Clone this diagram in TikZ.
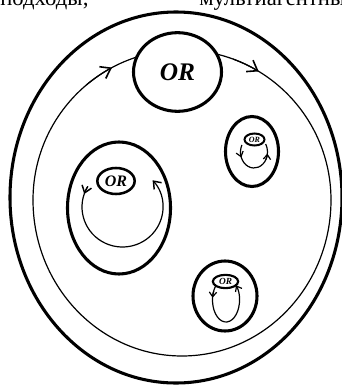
\documentclass[tikz,border=0pt]{standalone}
\usepackage{fontspec}
\setmainfont{Liberation Serif}
\usetikzlibrary{arrows.meta,shapes.geometric}
\begin{document}
\begin{tikzpicture}[x=0.75pt,y=-0.75pt,
  thickline/.style={line width=2.3pt},
  thinline/.style={line width=0.9pt},
  bigtip/.style={-{Straight Barb[length=7pt,width=10pt,line width=1.2pt]}},
  smalltip/.style={-{Straight Barb[length=5pt,width=7.5pt,line width=1.1pt]}},
  tinytip/.style={-{Straight Barb[length=3.5pt,width=5.5pt,line width=0.9pt]}},
  ornode/.style={ellipse, draw, fill=white, inner sep=0pt, font=\bfseries\itshape},
  cuttext/.style={anchor=base west, inner sep=0pt, font=\fontsize{17}{20}\selectfont}
]
\useasboundingbox (0,0) rectangle (342,385);
% cut-off text line at the top (only its lower part lies on the page)
\node[cuttext] (t1) at (0,6) {подходы;};
\node[cuttext] (t2) at (199,6) {мультиагентный};
% outer thick ellipse
\draw[thickline] (176,197.5) ellipse [x radius=166, y radius=185.5];
% inner thin ellipse (two halves)
\coordinate (ic) at (182,200);
\draw[thinline] (ic) ++(180:149 and 150) arc[start angle=180, end angle=360, x radius=149, y radius=150];
\draw[thinline] (ic) ++(0:149 and 156) arc[start angle=0, end angle=180, x radius=149, y radius=156];
\draw[thinline,bigtip] (ic) ++(230:149 and 150) arc[start angle=230, end angle=242, x radius=149, y radius=150];
\draw[thinline,bigtip] (ic) ++(290:149 and 150) arc[start angle=290, end angle=301, x radius=149, y radius=150];
% top OR node
\node[ornode, line width=2.3pt, minimum width=66pt, minimum height=59pt, font=\fontsize{19}{22}\selectfont\bfseries\itshape] (or0) at (177.5,72) {OR};

% left sub-system
\draw[thickline] (119,208) ellipse [x radius=51.5, y radius=66];
\coordinate (lc) at (122.5,207);
\draw[thinline,smalltip] (lc) ++(211:40.5 and 40) arc[start angle=211, end angle=-42, x radius=40.5, y radius=40];
\draw[thinline,smalltip] (lc) ++(211:40.5 and 40) arc[start angle=211, end angle=199, x radius=40.5, y radius=40];
\node[ornode, line width=1.9pt, minimum width=28pt, minimum height=19.5pt, font=\fontsize{12}{14}\selectfont\bfseries\itshape] (or1) at (116,181) {OR};

% upper-right sub-system
\draw[thickline] (252,151.5) ellipse [x radius=26.5, y radius=35];
\coordinate (rc) at (254,152);
\draw[thinline] (rc) ++(206:13.5 and 16) arc[start angle=206, end angle=-30, x radius=13.5, y radius=16];
\draw[thinline,tinytip] (rc) ++(178:13.5 and 16) arc[start angle=178, end angle=160, x radius=13.5, y radius=16];
\draw[thinline,tinytip] (rc) ++(28:13.5 and 16) arc[start angle=28, end angle=6, x radius=13.5, y radius=16];
\node[ornode, line width=1.5pt, minimum width=15pt, minimum height=9pt, font=\fontsize{6}{7}\selectfont\bfseries\itshape] (or2) at (254.5,139.5) {OR};

% bottom-right sub-system
\draw[thickline] (225,296) ellipse [x radius=32, y radius=35];
\coordinate (bc) at (226,300);
\draw[thinline,tinytip] (bc) ++(220:13.5 and 22) arc[start angle=220, end angle=-42, x radius=13.5, y radius=22];
\draw[thinline,tinytip] (bc) ++(205:13.5 and 22) arc[start angle=205, end angle=186, x radius=13.5, y radius=22];
\node[ornode, line width=1.6pt, minimum width=19pt, minimum height=10pt, font=\fontsize{7}{8}\selectfont\bfseries\itshape] (or3) at (225.5,281.5) {OR};
\end{tikzpicture}
\end{document}
